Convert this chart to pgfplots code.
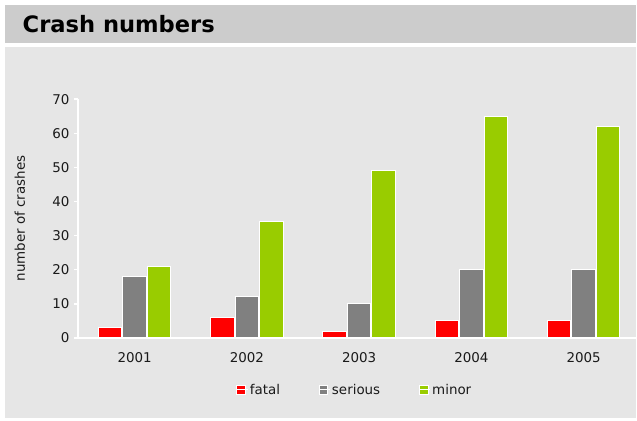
\documentclass[border=0pt]{standalone}
\usepackage{pgfplots}
\pgfplotsset{compat=1.18}
\usepackage{fontspec}
\setmainfont{DejaVu Sans}
\definecolor{titlegray}{HTML}{CCCCCC}
\definecolor{panelgray}{HTML}{E6E6E6}
\definecolor{cred}{HTML}{FF0000}
\definecolor{cgray}{HTML}{808080}
\definecolor{cgreen}{HTML}{99CC00}
\definecolor{txt}{HTML}{1A1A1A}
\begin{document}
\begin{tikzpicture}[x=1bp,y=1bp]
\fill[white] (0,0) rectangle (637,421);
\fill[titlegray] (5,378) rectangle (637,415.5);
\fill[panelgray] (5,3) rectangle (637,374);
\node[anchor=base west, inner sep=0pt, font=\bfseries\fontsize{22.7}{25}\selectfont] at (22.5,388) {Crash numbers};
\begin{axis}[
  at={(78bp,82.7bp)}, anchor=south west,
  scale only axis, width=559bp, height=239bp,
  xmin=-0.505, xmax=4.468, ymin=0, ymax=70,
  ybar=1bp, bar width=23.5bp,
  axis x line*=bottom, axis y line*=left,
  axis line style={white, line width=1.5bp},
  xtick={0,1,2,3,4}, xticklabels={2001,2002,2003,2004,2005},
  ytick={0,10,...,70},
  xtick style={draw=none},
  ytick style={white, line width=1.5bp},
  tick align=outside, major tick length=4bp,
  tick label style={font=\fontsize{13.5}{15}\selectfont, text=txt},
  /pgf/number format/assume math mode=true,
  yticklabel style={xshift=-1bp},
  xticklabel style={yshift=-7bp},
  ylabel={number of crashes},
  ylabel style={font=\fontsize{13.5}{15}\selectfont, text=txt, at={(axis description cs:-0.104,0.5)}, anchor=center},
  legend columns=3,
  legend style={at={(axis description cs:0.4955,-0.218)}, anchor=center, draw=none, fill=none,
    font=\fontsize{13.5}{15}\selectfont, text=txt,
    /tikz/every even column/.append style={column sep=37bp},
    nodes={inner sep=1.5bp}},
  legend image code/.code={\draw[#1, draw=white, line width=1bp] (0bp,-4.5bp) rectangle (9bp,4.5bp); \path (0bp,0bp) -- (11bp,0bp);},
]
\addplot[fill=cred, draw=white, line width=1bp] coordinates {(0,3) (1,6) (2,2) (3,5) (4,5)};
\addplot[fill=cgray, draw=white, line width=1bp] coordinates {(0,18) (1,12) (2,10) (3,20) (4,20)};
\addplot[fill=cgreen, draw=white, line width=1bp] coordinates {(0,21) (1,34) (2,49) (3,65) (4,62)};
\legend{fatal, serious, minor}
\end{axis}
\end{tikzpicture}
\end{document}
